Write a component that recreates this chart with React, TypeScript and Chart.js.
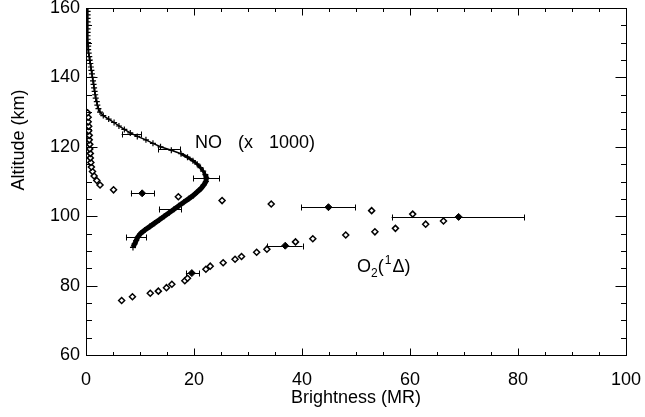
import React, { useEffect, useRef } from "react";
import { Chart, registerables } from "chart.js";

Chart.register(...registerables);

// ---- NO (x 1000) model profile ----
const noAltitude = [
  160, 159, 158, 157, 156, 155, 154, 153, 152, 151, 150, 149, 148, 147, 146, 145, 144, 143, 142, 141,
  140, 139, 138, 137, 136, 135, 134, 133, 132, 131, 130, 129, 128, 127, 126, 125, 124, 123, 122, 121,
  120, 119, 118, 117, 116, 115, 114, 113, 112, 111, 110, 109, 108, 107, 106, 105, 104, 103, 102, 101,
  100, 99, 98, 97, 96, 95, 94, 93, 92, 91,
];
const noBrightness = [
  0.3, 0.3, 0.3, 0.3, 0.3, 0.3, 0.3, 0.3, 0.3, 0.3, 0.35, 0.4, 0.4, 0.5, 0.6, 0.7, 0.8, 0.9, 1.0, 1.1,
  1.2, 1.3, 1.4, 1.5, 1.6, 1.7, 1.8, 2.0, 2.1, 2.3, 2.6, 3.2, 4.2, 5.2, 6.1, 7.1, 8.2, 9.5, 11.1, 12.4,
  13.8, 15.8, 17.6, 18.8, 19.8, 20.6, 21.2, 21.7, 22.1, 22.3, 22.2, 21.8, 21.3, 20.6, 19.9, 19.0, 18.1, 17.2, 16.3, 15.4,
  14.5, 13.6, 12.7, 11.8, 10.9, 10.1, 9.6, 9.3, 9.0, 8.7,
];
// NO error bars
const noErrAltitude = [123.7, 119.3, 111.1, 102.0, 93.9];
const noErrLow = [6.6, 13.4, 19.9, 13.5, 7.4];
const noErrHigh = [10.2, 17.4, 24.7, 17.6, 11.2];

// ---- O2(1Δ) points (open diamonds) ----
const o2Altitude = [
  75.7, 76.8, 77.8, 78.4, 79.4, 80.4, 81.4, 82.1, 84.7, 85.6, 86.6, 87.6, 88.4, 89.6, 90.5,
  92.6, 93.5, 94.6, 95.5, 96.5, 97.7, 98.6, 100.6, 101.6, 103.5, 104.5, 105.6, 107.6, 109.0,
  110.3, 111.6, 112.9, 114.2, 115.5, 116.8, 118.1, 119.4, 120.7, 122.0, 123.3, 124.6, 125.9,
  127.2, 128.5, 129.8,
];
const o2Brightness = [
  6.6, 8.6, 11.9, 13.4, 14.9, 15.9, 18.3, 18.8, 22.2, 23.0, 25.4, 27.6, 28.8, 31.6, 33.5,
  38.8, 42.0, 48.1, 53.5, 57.3, 62.9, 66.2, 60.5, 52.9, 34.3, 25.2, 17.1, 5.1, 2.6,
  2.0, 1.5, 1.2, 1.0, 0.9, 0.8, 0.8, 0.7, 0.7, 0.6, 0.6, 0.5, 0.5,
  0.4, 0.4, 0.3,
];
// O2 measured points (filled diamonds) with error bars
const o2MeasAltitude = [83.6, 91.5, 99.8, 102.6, 106.6];
const o2MeasBrightness = [19.6, 36.9, 69.0, 44.9, 10.4];
const o2MeasLow = [18.5, 33.6, 56.6, 39.9, 8.3];
const o2MeasHigh = [21.0, 40.1, 81.2, 49.9, 12.6];

// ---- axes ----
const xRange = [0, 100];
const yRange = [60, 160];
const xMajorStep = 20;
const yMajorStep = 20;
const minorStep = 5;
const xTitle = "Brightness (MR)";
const yTitle = "Altitude (km)";

// ---- annotations (data coordinates) ----
const noLabelText = "NO (x 1000)";
const noLabelAt = [20.2, 119.7];
const o2LabelAt = [50.2, 83.9];

const FONT = '"Liberation Sans", Arial, sans-serif';

const decorPlugin = {
  id: "decor",
  beforeDatasetsDraw(chart: any) {
    const { ctx } = chart;
    const xs = chart.scales.x;
    const ys = chart.scales.y;
    ctx.save();
    ctx.strokeStyle = "#000";
    ctx.lineWidth = 1;
    const bar = (lo: number, hi: number, alt: number) => {
      const x1 = xs.getPixelForValue(lo);
      const x2 = xs.getPixelForValue(hi);
      const y = Math.round(ys.getPixelForValue(alt)) + 0.5;
      const c = 3;
      ctx.beginPath();
      ctx.moveTo(x1, y);
      ctx.lineTo(x2, y);
      ctx.moveTo(Math.round(x1) + 0.5, y - c);
      ctx.lineTo(Math.round(x1) + 0.5, y + c);
      ctx.moveTo(Math.round(x2) + 0.5, y - c);
      ctx.lineTo(Math.round(x2) + 0.5, y + c);
      ctx.stroke();
    };
    noErrAltitude.forEach((a, i) => bar(noErrLow[i], noErrHigh[i], a));
    o2MeasAltitude.forEach((a, i) => bar(o2MeasLow[i], o2MeasHigh[i], a));
    ctx.restore();
  },
  afterDraw(chart: any) {
    const { ctx, chartArea } = chart;
    const xs = chart.scales.x;
    const ys = chart.scales.y;
    const L = Math.round(chartArea.left) + 0.5;
    const R = Math.round(chartArea.right) + 0.5;
    const T = Math.round(chartArea.top) + 0.5;
    const B = Math.round(chartArea.bottom) + 0.5;
    ctx.save();
    ctx.strokeStyle = "#000";
    ctx.lineWidth = 1;
    ctx.strokeRect(L, T, R - L, B - T);
    ctx.beginPath();
    for (let v = xRange[0]; v <= xRange[1]; v += minorStep) {
      const major = v % xMajorStep === 0;
      const len = major ? 7 : 3.5;
      const px = Math.round(xs.getPixelForValue(v)) + 0.5;
      ctx.moveTo(px, B);
      ctx.lineTo(px, B - len);
      ctx.moveTo(px, T);
      ctx.lineTo(px, T + len);
    }
    for (let v = yRange[0]; v <= yRange[1]; v += minorStep) {
      const major = v % yMajorStep === 0;
      const len = major ? 11 : 5.5;
      const py = Math.round(ys.getPixelForValue(v)) + 0.5;
      ctx.moveTo(L, py);
      ctx.lineTo(L + len, py);
      ctx.moveTo(R, py);
      ctx.lineTo(R - len, py);
    }
    ctx.stroke();

    ctx.fillStyle = "#000";

    // y title (rotated)
    ctx.save();
    ctx.font = `18px ${FONT}`;
    ctx.textAlign = "center";
    ctx.textBaseline = "middle";
    ctx.translate(19, 140);
    ctx.rotate(-Math.PI / 2);
    ctx.fillText(yTitle, 0, 0);
    ctx.restore();

    // NO label
    ctx.textBaseline = "alphabetic";
    ctx.textAlign = "left";
    ctx.font = `18px ${FONT}`;
    try {
      (ctx as any).wordSpacing = "11px";
    } catch (e) {}
    ctx.fillText(noLabelText, xs.getPixelForValue(noLabelAt[0]), ys.getPixelForValue(noLabelAt[1]));
    try {
      (ctx as any).wordSpacing = "0px";
    } catch (e) {}

    // O2(1Δ) label
    let x = xs.getPixelForValue(o2LabelAt[0]);
    const y = ys.getPixelForValue(o2LabelAt[1]);
    const piece = (t: string, size: number, dy: number) => {
      ctx.font = `${size}px ${FONT}`;
      ctx.fillText(t, x, y + dy);
      x += ctx.measureText(t).width;
    };
    piece("O", 18, 0);
    piece("2", 12, 5);
    piece("(", 18, 0);
    x += 1;
    piece("1", 12, -8);
    x += 1;
    piece("Δ", 18, 0);
    piece(")", 18, 0);
    ctx.restore();
  },
};

export default function App() {
  const ref = useRef<HTMLCanvasElement>(null);

  useEffect(() => {
    if (!ref.current) return;
    const noData = noAltitude.map((a, i) => ({ x: noBrightness[i], y: a }));
    const o2Data = o2Altitude.map((a, i) => ({ x: o2Brightness[i], y: a }));
    const o2Meas = o2MeasAltitude.map((a, i) => ({ x: o2MeasBrightness[i], y: a }));

    const tickFont = { family: FONT, size: 18 };
    const chart = new Chart(ref.current, {
      type: "scatter",
      data: {
        datasets: [
          {
            label: "O2 measured",
            data: o2Meas,
            pointStyle: "rectRot",
            pointRadius: 3.5,
            backgroundColor: "#000",
            borderColor: "#000",
            borderWidth: 1,
          },
          {
            label: "O2(1Δ)",
            data: o2Data,
            pointStyle: "rectRot",
            pointRadius: 3,
            backgroundColor: "#fff",
            borderColor: "#000",
            borderWidth: 1.5,
          },
          {
            label: "NO (x 1000)",
            data: noData,
            showLine: true,
            borderColor: "#000",
            borderWidth: 2,
            segment: {
              borderWidth: (c: any) => (c.p0.parsed.y <= 112 ? 5 : c.p0.parsed.y <= 118 ? 3 : 1.5),
            },
            pointStyle: "cross",
            pointRadius: 3,
            pointBorderWidth: 1.2,
            pointBorderColor: "#000",
            tension: 0,
          },
        ],
      },
      options: {
        responsive: false,
        animation: false,
        events: [],
        layout: { padding: { top: 8, right: 19, left: 0, bottom: 0 } },
        plugins: { legend: { display: false }, tooltip: { enabled: false } },
        scales: {
          x: {
            type: "linear",
            min: xRange[0],
            max: xRange[1],
            grid: { display: false, drawTicks: false },
            border: { display: false },
            ticks: { stepSize: xMajorStep, color: "#000", font: tickFont, padding: 14, maxRotation: 0 },
            title: {
              display: true,
              text: xTitle,
              color: "#000",
              font: tickFont,
              padding: { top: 0, bottom: 8 },
            },
            afterFit(scale: any) {
              scale.height = 62;
              scale.paddingLeft = 0;
              scale.paddingRight = 0;
            },
          },
          y: {
            type: "linear",
            min: yRange[0],
            max: yRange[1],
            grid: { display: false, drawTicks: false },
            border: { display: false },
            ticks: { stepSize: yMajorStep, color: "#000", font: tickFont, padding: 6 },
            afterFit(scale: any) {
              scale.width = 86;
              scale.paddingTop = 0;
              scale.paddingBottom = 0;
            },
          },
        },
      },
      plugins: [decorPlugin],
    } as any);
    return () => chart.destroy();
  }, []);

  return (
    <div style={{ position: "absolute", left: 0, top: 0, width: 645, height: 417, background: "#fff" }}>
      <canvas ref={ref} width={645} height={417} style={{ display: "block" }} />
    </div>
  );
}
